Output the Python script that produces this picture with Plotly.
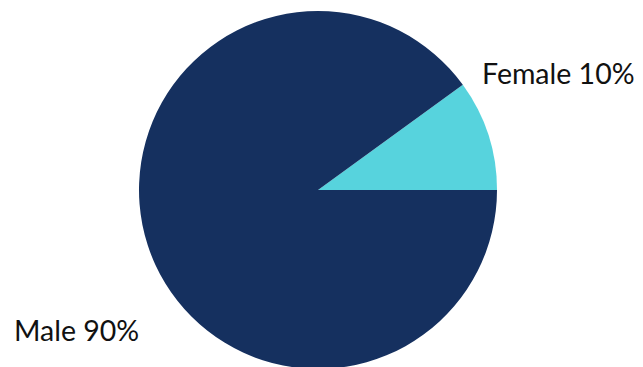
import plotly.graph_objects as go

labels = ["Female", "Male"]
values = [10, 90]
colors = ["#57d3dd", "#15305f"]

W, H = 643, 369
TOP = 11
cx = 318
r = (H - TOP) / 2

fig = go.Figure(go.Pie(
    labels=labels,
    values=values,
    sort=False,
    direction="counterclockwise",
    rotation=54,
    marker=dict(colors=colors, line=dict(width=0)),
    textinfo="none",
    hoverinfo="label+percent",
    showlegend=False,
    domain=dict(x=[(cx - r) / W, (cx + r) / W], y=[0, 1]),
))

total = sum(values)
label_pos = [(637, 73, "right"), (12, 330, "left")]
for (lab, val), (x, y, anc) in zip(zip(labels, values), label_pos):
    fig.add_annotation(
        x=x / W, y=(H - y) / (H - TOP), xref="paper", yref="paper",
        text=f"{lab} {round(val / total * 100)}%",
        showarrow=False, xanchor=anc, yanchor="middle",
        font=dict(family="Lato", size=28.5, color="#111111"),
    )

fig.update_layout(
    width=W, height=H,
    margin=dict(l=0, r=0, t=TOP, b=0),
    paper_bgcolor="white", plot_bgcolor="white",
)
fig.write_html(
    "out.html",
    config={"displayModeBar": False},
    post_script="document.body.style.margin='0';document.body.style.overflow='hidden';",
)
